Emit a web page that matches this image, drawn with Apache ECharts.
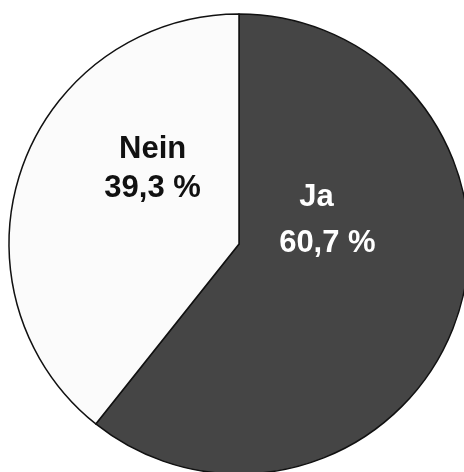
<!DOCTYPE html>
<html>
<head>
<meta charset="utf-8">
<script src="https://cdn.jsdelivr.net/npm/echarts@6/dist/echarts.min.js"></script>
<style>
html,body{margin:0;padding:0;background:#fff;}
#c{width:464px;height:472px;}
</style>
</head>
<body>
<div id="c"></div>
<script>
const categories = ['Ja', 'Nein'];
const values = [60.7, 39.3];
const valueLabels = ['60,7 %', '39,3 %'];

const colors = ['#454545', '#fbfbfb'];
const labelStyles = [
  { color: '#ffffff', offset: [-23, -62], lh: 46 },
  { color: '#111111', offset: [25, -36], lh: 39 }
];

const chart = echarts.init(document.getElementById('c'), null, { renderer: 'canvas' });
chart.setOption({
  backgroundColor: '#ffffff',
  animation: false,
  series: [{
    type: 'pie',
    center: [239, 244],
    radius: [0, 230],
    startAngle: 90,
    clockwise: true,
    silent: true,
    itemStyle: { borderColor: '#111111', borderWidth: 1.5 },
    labelLine: { show: false },
    data: categories.map((c, i) => ({
      name: c,
      value: values[i],
      itemStyle: { color: colors[i] },
      label: {
        show: true,
        position: 'inside',
        offset: labelStyles[i].offset,
        formatter: i === 0 ? '{a|' + c + '}\n{b|' + valueLabels[i] + '}' : '{b|' + c + '}\n{b|' + valueLabels[i] + '}',
        rich: {
          a: {
            fontFamily: 'Liberation Sans, Arial, sans-serif',
            fontSize: 31, fontWeight: 'bold',
            color: labelStyles[i].color, lineHeight: labelStyles[i].lh,
            padding: [0, 22, 0, 0]
          },
          b: {
            fontFamily: 'Liberation Sans, Arial, sans-serif',
            fontSize: 31, fontWeight: 'bold',
            color: labelStyles[i].color, lineHeight: labelStyles[i].lh
          }
        }
      }
    }))
  }]
});
</script>
</body>
</html>
